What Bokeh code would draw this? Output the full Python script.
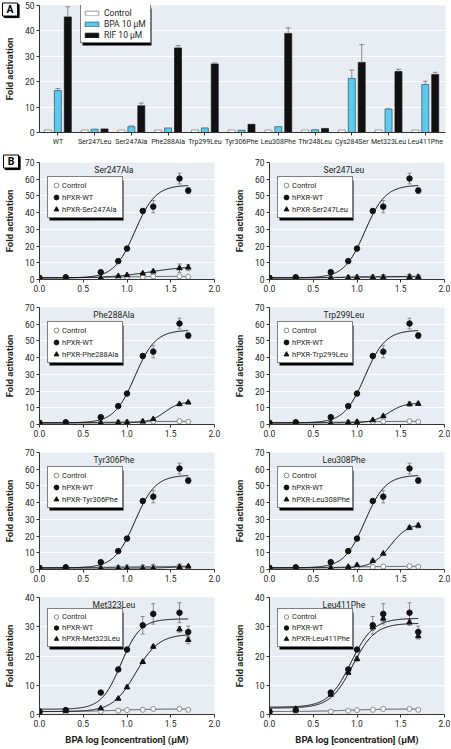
import numpy as np
from bokeh.plotting import figure
from bokeh.layouts import column, row
from bokeh.models import (Range1d, FixedTicker, PrintfTickFormatter, Legend, LegendItem,
                          Label, Whisker, TeeHead, ColumnDataSource, BoxAnnotation)
from bokeh.core.properties import value
from bokeh.embed import file_html
from bokeh.resources import INLINE

# ---------------- Panel A data ----------------
categories = ["WT", "Ser247Leu", "Ser247Ala", "Phe288Ala", "Trp299Leu", "Tyr306Phe",
              "Leu308Phe", "Thr248Leu", "Cys284Ser", "Met323Leu", "Leu411Phe"]
control_a = [1.0, 1.0, 1.0, 1.0, 1.0, 1.0, 1.0, 1.0, 1.0, 1.0, 1.0]
bpa_a = [16.5, 1.3, 2.3, 1.8, 1.8, 0.9, 2.3, 1.1, 21.3, 9.2, 18.9]
bpa_a_err = [0.8, 0.0, 0.3, 0.0, 0.0, 0.0, 0.0, 0.0, 3.3, 0.3, 1.3]
rif_a = [45.5, 1.4, 10.5, 33.3, 27.0, 3.2, 39.0, 1.6, 27.6, 24.0, 22.8]
rif_a_err = [4.0, 0.0, 1.1, 0.9, 0.4, 0.0, 2.2, 0.0, 7.0, 0.9, 0.9]
yticks_a = [0, 10, 20, 30, 40, 50]

# ---------------- Panel B data ----------------
log_conc = [0.0, 0.3, 0.7, 0.9, 1.0, 1.18, 1.3, 1.6, 1.7]
xticks_b = [0.0, 0.5, 1.0, 1.5, 2.0]
yticks_hi = [0, 10, 20, 30, 40, 50, 60, 70]
yticks_lo = [0, 10, 20, 30, 40]

wt_hi = [1.0, 1.3, 4.4, 11.0, 18.5, 41.0, 43.6, 60.4, 53.2]
wt_hi_err = [0.2, 0.3, 0.5, 0.6, 0.8, 1.2, 3.7, 3.2, 1.7]
ctrl_hi = [1.0, 1.0, 1.0, 1.2, 1.4, 1.5, 1.8, 2.0, 1.6]
wt_lo = [1.1, 1.5, 7.5, 15.4, 22.2, 30.5, 34.4, 34.8, 28.2]
wt_lo_err = [0.1, 0.2, 0.4, 0.5, 0.6, 3.0, 3.5, 3.4, 2.0]
ctrl_lo = [1.0, 0.8, 1.0, 1.3, 1.5, 1.6, 1.9, 1.9, 1.6]

ser247ala = [1.0, 1.0, 1.0, 2.0, 2.6, 3.6, 4.8, 6.8, 7.2]
ser247ala_err = [0.0, 0.0, 0.0, 0.3, 0.4, 0.5, 0.8, 2.5, 1.8]
ser247leu = [1.0, 1.0, 1.0, 1.1, 1.2, 1.3, 1.4, 1.6, 1.5]
ser247leu_err = [0.0, 0.0, 0.0, 0.0, 0.0, 0.0, 0.0, 0.0, 0.0]
phe288ala = [1.0, 1.0, 1.0, 1.2, 1.3, 1.8, 3.2, 12.2, 13.2]
phe288ala_err = [0.0, 0.0, 0.0, 0.0, 0.0, 0.2, 0.3, 0.5, 0.4]
trp299leu = [1.0, 1.0, 0.9, 1.3, 1.5, 2.6, 5.0, 12.2, 12.4]
trp299leu_err = [0.0, 0.0, 0.0, 0.0, 0.0, 0.3, 0.4, 1.2, 1.0]
tyr306phe = [1.0, 1.0, 0.9, 0.9, 0.9, 0.9, 0.9, 1.5, 1.8]
tyr306phe_err = [0.0, 0.0, 0.0, 0.0, 0.0, 0.0, 0.0, 0.2, 0.2]
leu308phe = [1.0, 1.0, 1.0, 1.6, 2.6, 5.2, 9.5, 25.0, 26.3]
leu308phe_err = [0.0, 0.0, 0.0, 0.2, 0.4, 0.6, 0.6, 1.2, 1.4]
met323leu = [1.0, 1.3, 2.1, 5.4, 9.3, 18.0, 23.2, 29.1, 25.5]
met323leu_err = [0.0, 0.1, 0.2, 0.3, 0.4, 0.4, 0.5, 1.0, 1.3]
leu411phe = [1.0, 1.9, 6.8, 14.3, 19.0, 29.8, 32.8, 31.5, 26.8]
leu411phe_err = [0.0, 0.2, 0.4, 0.6, 0.8, 1.0, 1.0, 1.0, 1.0]

# fitted logistic curves: (bottom, top, logEC50, hill slope)
fit_wt_hi = (1.0, 56.5, 1.09, 3.7)
fit_ctrl = (1.0, 1.9, 0.9, 2.0)
fit_ser247ala = (1.0, 8.0, 1.26, 2.0)
fit_ser247leu = (1.0, 1.7, 1.0, 2.0)
fit_phe288ala = (1.0, 13.8, 1.43, 5.0)
fit_trp299leu = (1.0, 12.9, 1.36, 4.8)
fit_tyr306phe = (0.9, 1.9, 1.55, 5.0)
fit_leu308phe = (1.0, 27.5, 1.38, 4.3)
fit_wt_met = (1.8, 32.7, 0.93, 3.9)
fit_met323leu = (1.0, 27.5, 1.10, 3.3)
fit_wt_leu411 = (2.5, 32.9, 0.93, 3.4)
fit_leu411phe = (2.2, 31.2, 0.95, 3.4)

# ---------------- style ----------------
FONT = "Roboto"
BG = "#e8edf3"
AX = "#333333"
TXT = "#231f20"
CYAN = "#5cc9ee"
ERR = "#8a8a8a"


def style(p, yticks):
    p.background_fill_color = BG
    p.border_fill_color = "white"
    p.outline_line_color = None
    p.xgrid.grid_line_color = None
    p.ygrid.grid_line_color = "white"
    p.ygrid.grid_line_width = 1
    p.yaxis.ticker = FixedTicker(ticks=yticks)
    for ax in (p.xaxis[0], p.yaxis[0]):
        ax.axis_line_color = AX
        ax.axis_line_width = 1
        ax.major_tick_line_color = AX
        ax.minor_tick_line_color = None
        ax.major_tick_out = 3
        ax.major_tick_in = 0
        ax.major_label_text_font = FONT
        ax.major_label_text_font_size = "8.5px"
        ax.major_label_text_color = TXT
        ax.major_label_standoff = 2
    p.yaxis.axis_label = "Fold activation"
    p.yaxis.axis_label_text_font = FONT
    p.yaxis.axis_label_text_font_style = "bold"
    p.yaxis.axis_label_text_font_size = "9.5px"
    p.yaxis.axis_label_text_color = TXT
    p.yaxis.axis_label_standoff = 7


def px_to_data(geom, px, py):
    """convert a pixel position inside a figure into data coordinates"""
    w, h, bl, br, bt, bb, x0, x1, y0, y1 = geom
    fw, fh = w - bl - br, h - bt - bb
    x = x0 + (px - bl) * (x1 - x0) / fw
    y = y1 - (py - bt) * (y1 - y0) / fh
    return x, y


def letter_box(p, geom, letter, cx, cy):
    x, y = px_to_data(geom, cx, cy)
    xs, ys = px_to_data(geom, cx + 1.6, cy + 1.6)
    p.rect(x=[xs], y=[ys], width=15, height=13, width_units="screen", height_units="screen",
           fill_color="black", line_color="black", level="overlay")
    p.rect(x=[x], y=[y], width=15, height=13, width_units="screen", height_units="screen",
           fill_color="white", line_color="black", line_width=1, level="overlay")
    p.text(x=[x], y=[y], text=[letter], text_font=value(FONT), text_font_size="10.5px",
           text_font_style="bold", text_color="black", text_align="center",
           text_baseline="middle", level="overlay")


def legend_with_shadow(p, items, x, y, pad, gw, gh, standoff, lw, lh, fsize):
    n = len(items)
    w = 2 * pad + gw + standoff + lw
    h = 2 * pad + n * max(gh, lh)
    p.add_layout(BoxAnnotation(left=x + 2, right=x + w + 2, bottom=y - 2, top=y + h - 2,
                               left_units="screen", right_units="screen",
                               bottom_units="screen", top_units="screen",
                               fill_color="black", fill_alpha=1.0, line_color=None))
    leg = Legend(items=items, location=(x, y), padding=pad, spacing=0, margin=0,
                 glyph_width=gw, glyph_height=gh, label_standoff=standoff,
                 label_width=lw, label_height=lh,
                 label_text_font=FONT, label_text_font_size=fsize, label_text_color=TXT,
                 background_fill_color="white", background_fill_alpha=1.0,
                 border_line_color="black", border_line_width=1)
    p.add_layout(leg, "center")


# ---------------- Panel A ----------------
idx = np.arange(len(categories))
geom_a = (450, 150, 39, 5, 5, 18, -0.5, 10.55, 0, 50)
pa = figure(width=geom_a[0], height=geom_a[1], x_range=Range1d(geom_a[6], geom_a[7]),
            y_range=Range1d(geom_a[8], geom_a[9]),
            output_backend="svg", toolbar_location=None,
            min_border_left=geom_a[2], min_border_right=geom_a[3],
            min_border_top=geom_a[4], min_border_bottom=geom_a[5])
style(pa, yticks_a)
pa.xaxis.ticker = FixedTicker(ticks=[int(i) for i in idx])
pa.xaxis.major_label_overrides = {int(i): c for i, c in zip(idx, categories)}
pa.xaxis.major_label_text_font_size = "7px"

r_ctrl = pa.vbar(x=idx - 0.27, top=control_a, width=0.19, fill_color="white",
                 line_color="#9a9a9a", line_width=1)
r_bpa = pa.vbar(x=idx, top=bpa_a, width=0.19, fill_color=CYAN, line_color="#2b4f5c", line_width=0.7)
r_rif = pa.vbar(x=idx + 0.27, top=rif_a, width=0.19, fill_color="#111111",
                line_color="#111111", line_width=0.7)


def one_sided(p, xs, vals, errs):
    keep = [i for i, e in enumerate(errs) if e > 0]
    src = ColumnDataSource(dict(base=[float(xs[i]) for i in keep],
                                lower=[vals[i] for i in keep],
                                upper=[vals[i] + errs[i] for i in keep]))
    p.add_layout(Whisker(source=src, base="base", lower="lower", upper="upper",
                         dimension="height", line_color=ERR, line_width=1,
                         upper_head=TeeHead(size=5, line_color=ERR, line_width=1),
                         lower_head=None, level="annotation"))


one_sided(pa, idx, bpa_a, bpa_a_err)
one_sided(pa, idx + 0.27, rif_a, rif_a_err)

legend_with_shadow(pa, [LegendItem(label="Control", renderers=[r_ctrl]),
                        LegendItem(label="BPA 10 µM", renderers=[r_bpa]),
                        LegendItem(label="RIF 10 µM", renderers=[r_rif])],
                   41, 89, 2, 17, 6, 4, 44, 11, "8.5px")
letter_box(pa, geom_a, "A", 9.5, 9.0)


# ---------------- Panel B ----------------
def logistic(fit, xs):
    b, t, c, h = fit
    return b + (t - b) / (1.0 + 10.0 ** ((c - xs) * h))


def sym_err(p, xs, vals, errs):
    keep = [i for i, e in enumerate(errs) if e > 0]
    if not keep:
        return
    src = ColumnDataSource(dict(base=[xs[i] for i in keep],
                                lower=[vals[i] - errs[i] for i in keep],
                                upper=[vals[i] + errs[i] for i in keep]))
    p.add_layout(Whisker(source=src, base="base", lower="lower", upper="upper",
                         dimension="height", line_color=ERR, line_width=1,
                         upper_head=TeeHead(size=4, line_color=ERR, line_width=1),
                         lower_head=TeeHead(size=4, line_color=ERR, line_width=1)))


panels = [
    ("Ser247Ala", ser247ala, ser247ala_err, fit_ser247ala),
    ("Ser247Leu", ser247leu, ser247leu_err, fit_ser247leu),
    ("Phe288Ala", phe288ala, phe288ala_err, fit_phe288ala),
    ("Trp299Leu", trp299leu, trp299leu_err, fit_trp299leu),
    ("Tyr306Phe", tyr306phe, tyr306phe_err, fit_tyr306phe),
    ("Leu308Phe", leu308phe, leu308phe_err, fit_leu308phe),
    ("Met323Leu", met323leu, met323leu_err, fit_met323leu),
    ("Leu411Phe", leu411phe, leu411phe_err, fit_leu411phe),
]
wt_fits_lo = {"Met323Leu": fit_wt_met, "Leu411Phe": fit_wt_leu411}

figs = []
xs_curve = np.linspace(0.0, 1.7, 150)
for i, (name, mut, mut_err, mut_fit) in enumerate(panels):
    left = (i % 2 == 0)
    last = (i >= 6)
    ymax = 40 if last else 70
    geom = (225,
            162 if last else 145,
            39 if left else 44,
            11 if left else 6,
            12,
            30 if last else 16,
            0.0, 2.0, 0, ymax)
    if last:
        wt, wt_err, wt_fit, ctrl = wt_lo, wt_lo_err, wt_fits_lo[name], ctrl_lo
    else:
        wt, wt_err, wt_fit, ctrl = wt_hi, wt_hi_err, fit_wt_hi, ctrl_hi

    p = figure(width=geom[0], height=geom[1], x_range=Range1d(geom[6], geom[7]),
               y_range=Range1d(geom[8], geom[9]),
               output_backend="svg", toolbar_location=None,
               min_border_left=geom[2], min_border_right=geom[3], min_border_top=geom[4],
               min_border_bottom=geom[5])
    style(p, yticks_lo if last else yticks_hi)
    p.xaxis.ticker = FixedTicker(ticks=xticks_b)
    p.xaxis.formatter = PrintfTickFormatter(format="%.1f")
    if last:
        p.xaxis.axis_label = "BPA log [concentration] (µM)"
        p.xaxis.axis_label_text_font = FONT
        p.xaxis.axis_label_text_font_style = "bold"
        p.xaxis.axis_label_text_font_size = "9.5px"
        p.xaxis.axis_label_text_color = TXT
        p.xaxis.axis_label_standoff = 4

    p.line(xs_curve, logistic(fit_ctrl, xs_curve), line_color="#555555", line_width=1)
    p.line(xs_curve, logistic(mut_fit, xs_curve), line_color="#111111", line_width=1)
    p.line(xs_curve, logistic(wt_fit, xs_curve), line_color="#111111", line_width=1)

    sym_err(p, log_conc, wt, wt_err)
    sym_err(p, log_conc, mut, mut_err)

    rc = p.scatter(log_conc, ctrl, marker="circle", size=5, fill_color="white",
                   line_color="#8a8a8a", line_width=1)
    rw = p.scatter(log_conc, wt, marker="circle", size=5.5, fill_color="#111111",
                   line_color="#111111")
    rm = p.scatter(log_conc, mut, marker="triangle", size=5.5, fill_color="#111111",
                   line_color="#111111")

    p.add_layout(Label(x=0.85, y=ymax * 0.94, text=name, text_font=FONT,
                       text_font_size="8.5px", text_color=TXT,
                       text_align="center", text_baseline="middle"))
    items = [LegendItem(label="Control", renderers=[rc]),
             LegendItem(label="hPXR-WT", renderers=[rw]),
             LegendItem(label="hPXR-" + name, renderers=[rm])]
    if last:
        legend_with_shadow(p, items, 8, 67, 2, 12, 11, 0, 58, 11, "7.5px")
    else:
        legend_with_shadow(p, items, 8, 61, 2, 12, 12, 0, 58, 12, "7.5px")
    if i == 0:
        letter_box(p, geom, "B", 10.5, 11.0)
    figs.append(p)

layout = column(pa,
                row(figs[0], figs[1]),
                row(figs[2], figs[3]),
                row(figs[4], figs[5]),
                row(figs[6], figs[7]))

open("out.html", "w").write(file_html(layout, INLINE))
